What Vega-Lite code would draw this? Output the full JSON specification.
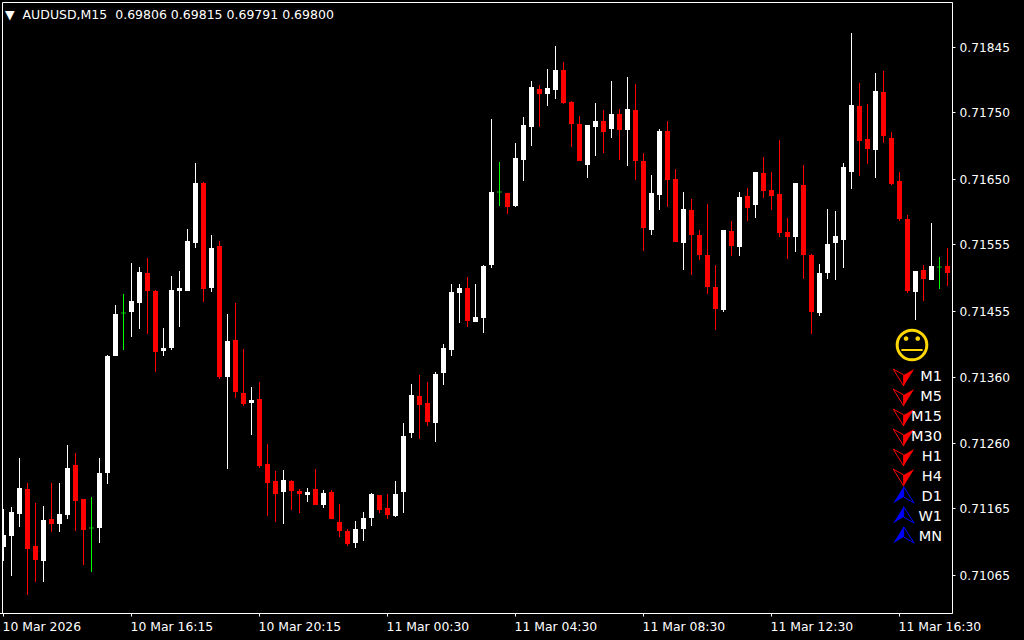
{
"$schema":"https://vega.github.io/schema/vega-lite/v6.json",
"width":950,"height":611,
"autosize":{"type":"none"},
"padding":{"left":2,"top":2,"right":72,"bottom":27},
"background":"#000000",
"view":{"stroke":"#ffffff","strokeWidth":1,"fill":"#000000"},
"title":{"text":"▼\u00a0\u00a0AUDUSD,M15\u00a0\u00a00.69806 0.69815 0.69791 0.69800","anchor":"start","frame":"group","orient":"top","offset":-19,"dx":3,"color":"#ffffff","font":"DejaVu Sans","fontSize":12.5,"fontWeight":"normal"},
"datasets":{
"bars":[
{"t":"10 Mar 12:15","o":0.71106,"h":0.71162,"l":0.71086,"c":0.71124},
{"t":"10 Mar 12:30","o":0.71123,"h":0.71165,"l":0.71064,"c":0.71158},
{"t":"10 Mar 12:45","o":0.71155,"h":0.71238,"l":0.71136,"c":0.71194},
{"t":"10 Mar 13:00","o":0.71192,"h":0.71201,"l":0.71035,"c":0.71103},
{"t":"10 Mar 13:15","o":0.71108,"h":0.71171,"l":0.71055,"c":0.71087},
{"t":"10 Mar 13:30","o":0.71086,"h":0.71167,"l":0.71055,"c":0.71146},
{"t":"10 Mar 13:45","o":0.71148,"h":0.71201,"l":0.71129,"c":0.71140},
{"t":"10 Mar 14:00","o":0.71140,"h":0.71201,"l":0.71129,"c":0.71155},
{"t":"10 Mar 14:15","o":0.71154,"h":0.71257,"l":0.71148,"c":0.71223},
{"t":"10 Mar 14:30","o":0.71227,"h":0.71245,"l":0.71130,"c":0.71174},
{"t":"10 Mar 14:45","o":0.71177,"h":0.71177,"l":0.71080,"c":0.71131},
{"t":"10 Mar 15:00","o":0.71134,"h":0.71180,"l":0.71069,"c":0.71134},
{"t":"10 Mar 15:15","o":0.71134,"h":0.71238,"l":0.71112,"c":0.71216},
{"t":"10 Mar 15:30","o":0.71216,"h":0.71390,"l":0.71199,"c":0.71388},
{"t":"10 Mar 15:45","o":0.71388,"h":0.71464,"l":0.71388,"c":0.71451},
{"t":"10 Mar 16:00","o":0.71452,"h":0.71480,"l":0.71397,"c":0.71452},
{"t":"10 Mar 16:15","o":0.71453,"h":0.71526,"l":0.71417,"c":0.71470},
{"t":"10 Mar 16:30","o":0.71467,"h":0.71520,"l":0.71428,"c":0.71513},
{"t":"10 Mar 16:45","o":0.71511,"h":0.71533,"l":0.71421,"c":0.71484},
{"t":"10 Mar 17:00","o":0.71484,"h":0.71486,"l":0.71365,"c":0.71394},
{"t":"10 Mar 17:15","o":0.71396,"h":0.71430,"l":0.71388,"c":0.71400},
{"t":"10 Mar 17:30","o":0.71400,"h":0.71507,"l":0.71397,"c":0.71486},
{"t":"10 Mar 17:45","o":0.71484,"h":0.71514,"l":0.71431,"c":0.71489},
{"t":"10 Mar 18:00","o":0.71484,"h":0.71576,"l":0.71484,"c":0.71558},
{"t":"10 Mar 18:15","o":0.71555,"h":0.71674,"l":0.71548,"c":0.71644},
{"t":"10 Mar 18:30","o":0.71644,"h":0.71646,"l":0.71468,"c":0.71487},
{"t":"10 Mar 18:45","o":0.71489,"h":0.71567,"l":0.71483,"c":0.71548},
{"t":"10 Mar 19:00","o":0.71551,"h":0.71558,"l":0.71355,"c":0.71357},
{"t":"10 Mar 19:15","o":0.71357,"h":0.71451,"l":0.71222,"c":0.71411},
{"t":"10 Mar 19:30","o":0.71412,"h":0.71467,"l":0.71326,"c":0.71335},
{"t":"10 Mar 19:45","o":0.71334,"h":0.71399,"l":0.71315,"c":0.71318},
{"t":"10 Mar 20:00","o":0.71319,"h":0.71343,"l":0.71272,"c":0.71323},
{"t":"10 Mar 20:15","o":0.71325,"h":0.71350,"l":0.71223,"c":0.71226},
{"t":"10 Mar 20:30","o":0.71229,"h":0.71258,"l":0.71152,"c":0.71201},
{"t":"10 Mar 20:45","o":0.71204,"h":0.71219,"l":0.71143,"c":0.71185},
{"t":"10 Mar 21:00","o":0.71188,"h":0.71220,"l":0.71140,"c":0.71205},
{"t":"10 Mar 21:15","o":0.71204,"h":0.71205,"l":0.71161,"c":0.71189},
{"t":"10 Mar 21:30","o":0.71189,"h":0.71192,"l":0.71157,"c":0.71185},
{"t":"10 Mar 21:45","o":0.71183,"h":0.71194,"l":0.71173,"c":0.71188},
{"t":"10 Mar 22:00","o":0.71192,"h":0.71222,"l":0.71168,"c":0.71168},
{"t":"10 Mar 22:15","o":0.71168,"h":0.71191,"l":0.71164,"c":0.71186},
{"t":"10 Mar 22:30","o":0.71188,"h":0.71191,"l":0.71148,"c":0.71148},
{"t":"10 Mar 22:45","o":0.71143,"h":0.71170,"l":0.71121,"c":0.71130},
{"t":"10 Mar 23:00","o":0.71130,"h":0.71133,"l":0.71108,"c":0.71111},
{"t":"10 Mar 23:15","o":0.71112,"h":0.71145,"l":0.71105,"c":0.71133},
{"t":"10 Mar 23:30","o":0.71133,"h":0.71158,"l":0.71115,"c":0.71149},
{"t":"10 Mar 23:45","o":0.71149,"h":0.71186,"l":0.71137,"c":0.71185},
{"t":"11 Mar 00:15","o":0.71183,"h":0.71183,"l":0.71157,"c":0.71161},
{"t":"11 Mar 00:30","o":0.71164,"h":0.71185,"l":0.71148,"c":0.71154},
{"t":"11 Mar 00:45","o":0.71152,"h":0.71204,"l":0.71151,"c":0.71185},
{"t":"11 Mar 01:00","o":0.71188,"h":0.71290,"l":0.71157,"c":0.71270},
{"t":"11 Mar 01:15","o":0.71275,"h":0.71347,"l":0.71267,"c":0.71331},
{"t":"11 Mar 01:30","o":0.71329,"h":0.71360,"l":0.71266,"c":0.71316},
{"t":"11 Mar 01:45","o":0.71319,"h":0.71350,"l":0.71285,"c":0.71291},
{"t":"11 Mar 02:00","o":0.71290,"h":0.71365,"l":0.71261,"c":0.71362},
{"t":"11 Mar 02:15","o":0.71363,"h":0.71406,"l":0.71346,"c":0.71400},
{"t":"11 Mar 02:30","o":0.71397,"h":0.71495,"l":0.71388,"c":0.71483},
{"t":"11 Mar 02:45","o":0.71482,"h":0.71495,"l":0.71437,"c":0.71489},
{"t":"11 Mar 03:00","o":0.71489,"h":0.71505,"l":0.71431,"c":0.71440},
{"t":"11 Mar 03:15","o":0.71439,"h":0.71495,"l":0.71439,"c":0.71446},
{"t":"11 Mar 03:30","o":0.71445,"h":0.71523,"l":0.71422,"c":0.71521},
{"t":"11 Mar 03:45","o":0.71523,"h":0.71739,"l":0.71518,"c":0.71631},
{"t":"11 Mar 04:00","o":0.71631,"h":0.71675,"l":0.71610,"c":0.71631},
{"t":"11 Mar 04:15","o":0.71629,"h":0.71629,"l":0.71598,"c":0.71609},
{"t":"11 Mar 04:30","o":0.71610,"h":0.71703,"l":0.71609,"c":0.71681},
{"t":"11 Mar 04:45","o":0.71678,"h":0.71742,"l":0.71647,"c":0.71730},
{"t":"11 Mar 05:00","o":0.71727,"h":0.71795,"l":0.71699,"c":0.71786},
{"t":"11 Mar 05:15","o":0.71783,"h":0.71789,"l":0.71727,"c":0.71775},
{"t":"11 Mar 05:30","o":0.71775,"h":0.71812,"l":0.71758,"c":0.71784},
{"t":"11 Mar 05:45","o":0.71781,"h":0.71846,"l":0.71768,"c":0.71811},
{"t":"11 Mar 06:00","o":0.71811,"h":0.71823,"l":0.71761,"c":0.71762},
{"t":"11 Mar 06:15","o":0.71764,"h":0.71765,"l":0.71697,"c":0.71731},
{"t":"11 Mar 06:30","o":0.71731,"h":0.71743,"l":0.71677,"c":0.71677},
{"t":"11 Mar 06:45","o":0.71671,"h":0.71730,"l":0.71651,"c":0.71730},
{"t":"11 Mar 07:00","o":0.71727,"h":0.71762,"l":0.71684,"c":0.71736},
{"t":"11 Mar 07:15","o":0.71736,"h":0.71752,"l":0.71688,"c":0.71719},
{"t":"11 Mar 07:30","o":0.71724,"h":0.71795,"l":0.71710,"c":0.71746},
{"t":"11 Mar 07:45","o":0.71746,"h":0.71753,"l":0.71678,"c":0.71722},
{"t":"11 Mar 08:00","o":0.71722,"h":0.71801,"l":0.71669,"c":0.71753},
{"t":"11 Mar 08:15","o":0.71752,"h":0.71790,"l":0.71648,"c":0.71677},
{"t":"11 Mar 08:30","o":0.71677,"h":0.71688,"l":0.71544,"c":0.71578},
{"t":"11 Mar 08:45","o":0.71575,"h":0.71656,"l":0.71567,"c":0.71629},
{"t":"11 Mar 09:00","o":0.71626,"h":0.71724,"l":0.71604,"c":0.71721},
{"t":"11 Mar 09:15","o":0.71721,"h":0.71736,"l":0.71609,"c":0.71648},
{"t":"11 Mar 09:30","o":0.71650,"h":0.71665,"l":0.71557,"c":0.71557},
{"t":"11 Mar 09:45","o":0.71555,"h":0.71631,"l":0.71516,"c":0.71606},
{"t":"11 Mar 10:00","o":0.71604,"h":0.71620,"l":0.71508,"c":0.71567},
{"t":"11 Mar 10:15","o":0.71567,"h":0.71575,"l":0.71530,"c":0.71538},
{"t":"11 Mar 10:30","o":0.71538,"h":0.71613,"l":0.71480,"c":0.71490},
{"t":"11 Mar 10:45","o":0.71490,"h":0.71523,"l":0.71427,"c":0.71458},
{"t":"11 Mar 11:00","o":0.71456,"h":0.71575,"l":0.71453,"c":0.71575},
{"t":"11 Mar 11:15","o":0.71573,"h":0.71588,"l":0.71536,"c":0.71551},
{"t":"11 Mar 11:30","o":0.71549,"h":0.71631,"l":0.71536,"c":0.71623},
{"t":"11 Mar 11:45","o":0.71625,"h":0.71637,"l":0.71588,"c":0.71607},
{"t":"11 Mar 12:00","o":0.71612,"h":0.71660,"l":0.71592,"c":0.71660},
{"t":"11 Mar 12:15","o":0.71659,"h":0.71682,"l":0.71622,"c":0.71632},
{"t":"11 Mar 12:30","o":0.71634,"h":0.71660,"l":0.71604,"c":0.71625},
{"t":"11 Mar 12:45","o":0.71628,"h":0.71708,"l":0.71564,"c":0.71570},
{"t":"11 Mar 13:00","o":0.71572,"h":0.71592,"l":0.71532,"c":0.71564},
{"t":"11 Mar 13:15","o":0.71564,"h":0.71644,"l":0.71542,"c":0.71644},
{"t":"11 Mar 13:30","o":0.71641,"h":0.71671,"l":0.71502,"c":0.71538},
{"t":"11 Mar 13:45","o":0.71538,"h":0.71539,"l":0.71421,"c":0.71453},
{"t":"11 Mar 14:00","o":0.71452,"h":0.71524,"l":0.71448,"c":0.71511},
{"t":"11 Mar 14:15","o":0.71511,"h":0.71606,"l":0.71502,"c":0.71554},
{"t":"11 Mar 14:30","o":0.71555,"h":0.71603,"l":0.71501,"c":0.71566},
{"t":"11 Mar 14:45","o":0.71560,"h":0.71674,"l":0.71518,"c":0.71668},
{"t":"11 Mar 15:00","o":0.71660,"h":0.71866,"l":0.71635,"c":0.71759},
{"t":"11 Mar 15:15","o":0.71758,"h":0.71792,"l":0.71654,"c":0.71706},
{"t":"11 Mar 15:30","o":0.71709,"h":0.71761,"l":0.71672,"c":0.71694},
{"t":"11 Mar 15:45","o":0.71693,"h":0.71807,"l":0.71651,"c":0.71780},
{"t":"11 Mar 16:00","o":0.71778,"h":0.71809,"l":0.71703,"c":0.71713},
{"t":"11 Mar 16:15","o":0.71710,"h":0.71719,"l":0.71641,"c":0.71643},
{"t":"11 Mar 16:30","o":0.71647,"h":0.71660,"l":0.71588,"c":0.71591},
{"t":"11 Mar 16:45","o":0.71591,"h":0.71597,"l":0.71482,"c":0.71484},
{"t":"11 Mar 17:00","o":0.71483,"h":0.71514,"l":0.71442,"c":0.71514},
{"t":"11 Mar 17:15","o":0.71516,"h":0.71523,"l":0.71470,"c":0.71502},
{"t":"11 Mar 17:30","o":0.71501,"h":0.71585,"l":0.71501,"c":0.71521},
{"t":"11 Mar 17:45","o":0.71520,"h":0.71535,"l":0.71487,"c":0.71520},
{"t":"11 Mar 18:00","o":0.71521,"h":0.71548,"l":0.71492,"c":0.71511}
],
"panel":[
{"tf":"M1","dir":"down"},{"tf":"M5","dir":"down"},{"tf":"M15","dir":"down"},{"tf":"M30","dir":"down"},{"tf":"H1","dir":"down"},{"tf":"H4","dir":"down"},{"tf":"D1","dir":"up"},{"tf":"W1","dir":"up"},{"tf":"MN","dir":"up"}
],
"mood":[{"mood":"neutral"}]
},
"encoding":{
"x":{"field":"t","type":"ordinal","sort":null,"scale":{"type":"band","range":[-2.5,949.5],"paddingInner":0,"paddingOuter":0,"round":false},
"axis":{"title":null,"orient":"bottom","values":["10 Mar 12:15","10 Mar 16:15","10 Mar 20:15","11 Mar 00:30","11 Mar 04:30","11 Mar 08:30","11 Mar 12:30","11 Mar 16:30"],
"labelExpr":"datum.value=='10 Mar 12:15'?'10 Mar 2026':datum.value","labelAngle":0,"labelAlign":"left","labelBaseline":"middle","labelPadding":10,"labelBound":false,"labelFlush":false,"labelOverlap":false,"labelOffset":-1,"labelColor":"#ffffff","labelFont":"DejaVu Sans","labelFontSize":12.4,"tickColor":"#ffffff","tickSize":3,"domainColor":"#ffffff","grid":false}}
},
"layer":[
{"layer":[
{"data":{"name":"bars"},"mark":{"type":"rule","strokeWidth":1,"clip":true},
"encoding":{"y":{"field":"l","type":"quantitative","scale":{"domain":[0.7100887,0.7191138],"range":[611,0],"nice":false,"zero":false,"round":true},
"axis":{"title":null,"orient":"right","values":[0.718449,0.717482,0.716499,0.715532,0.71455,0.713579,0.7126,0.71164,0.71065],"labelExpr":"format(round(datum.value*20000)/20000,'.5f')","labelColor":"#ffffff","labelFont":"DejaVu Sans","labelFontSize":12.2,"labelPadding":4,"tickColor":"#ffffff","tickSize":3,"domainColor":"#ffffff","grid":false,"labelOverlap":false,"labelBound":false,"labelFlush":false}},
"y2":{"field":"h"},
"color":{"condition":[{"test":"datum.c>datum.o","value":"#ffffff"},{"test":"datum.c<datum.o","value":"#ff0000"}],"value":"#00ff00"}}},
{"data":{"name":"bars"},"transform":[{"filter":"datum.c!=datum.o"}],"mark":{"type":"bar","size":5,"clip":true},
"encoding":{"y":{"field":"o","type":"quantitative"},"y2":{"field":"c"},
"color":{"condition":{"test":"datum.c>datum.o","value":"#ffffff"},"value":"#ff0000"}}},
{"data":{"name":"bars"},"transform":[{"filter":"datum.c==datum.o"}],"mark":{"type":"tick","size":5,"thickness":1,"color":"#00ff00","clip":true},
"encoding":{"y":{"field":"c","type":"quantitative"}}},
{"data":{"name":"mood"},"mark":{"type":"point","shape":"circle","filled":false,"size":880,"stroke":"#ffd700","strokeWidth":3,"opacity":1,"xOffset":-3.5},
"encoding":{"x":{"datum":"11 Mar 17:00"},"y":{"datum":0.71404}}},
{"data":{"name":"mood"},"mark":{"type":"point","filled":true,"fill":"#ffd700","strokeWidth":0,"opacity":1,"size":1296,"xOffset":-3.5,"shape":"M-0.46,-0.36A0.13,0.13 0 1 1 -0.2,-0.36A0.13,0.13 0 1 1 -0.46,-0.36ZM0.19,-0.36A0.13,0.13 0 1 1 0.45,-0.36A0.13,0.13 0 1 1 0.19,-0.36ZM-0.59,0.22H0.59V0.33H-0.59Z"},
"encoding":{"x":{"datum":"11 Mar 17:00"},"y":{"datum":0.71404}}}
]},
{"layer":[
{"data":{"name":"panel"},"mark":{"type":"point","filled":true,"strokeWidth":0,"opacity":1,"size":441,"xOffset":-3.8},
"encoding":{"x":{"datum":"11 Mar 16:45"},
"y":{"field":"tf","type":"nominal","scale":{"type":"point","domain":["M1","M5","M15","M30","H1","H4","D1","W1","MN"],"range":[374,534],"padding":0},"axis":null},
"shape":{"field":"dir","type":"nominal","legend":null,"scale":{"domain":["down","up"],"range":["M1,-0.66L0,0.96L0,-0.1Z","M-1,0.68L0,-0.88L0,0.1Z"]}},
"fill":{"field":"dir","type":"nominal","legend":null,"scale":{"domain":["down","up"],"range":["#ff0000","#0000ff"]}}}},
{"data":{"name":"panel"},"mark":{"type":"point","filled":false,"strokeWidth":1,"opacity":1,"size":441,"xOffset":-3.8},
"encoding":{"x":{"datum":"11 Mar 16:45"},
"y":{"field":"tf","type":"nominal","axis":null},
"shape":{"field":"dir","type":"nominal","legend":null,"scale":{"domain":["down","up"],"range":["M-1,-0.66L0,0.96L0,-0.1Z","M1,0.68L0,-0.88L0,0.1Z"]}},
"stroke":{"field":"dir","type":"nominal","legend":null,"scale":{"domain":["down","up"],"range":["#ff0000","#0000ff"]}}}},
{"data":{"name":"panel"},"mark":{"type":"text","align":"right","baseline":"middle","dx":2.5,"dy":1,"font":"DejaVu Sans","fontSize":14.5,"color":"#ffffff"},
"encoding":{"x":{"datum":"11 Mar 17:45"},
"y":{"field":"tf","type":"nominal","axis":null},
"text":{"field":"tf","type":"nominal"}}}
],
"resolve":{"scale":{"shape":"independent"}}}
],
"resolve":{"scale":{"y":"independent"}}
}
